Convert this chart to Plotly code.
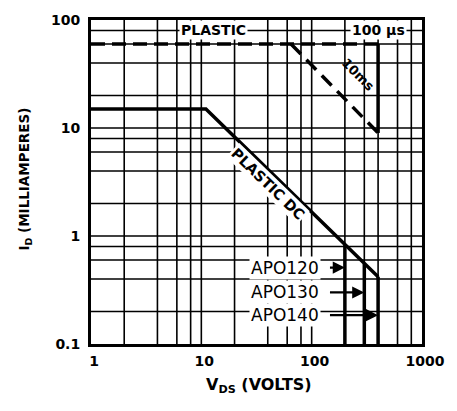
import numpy as np
import plotly.graph_objects as go

# ---- data ----
grid_v = [1, 2, 4, 6, 8, 10, 20, 40, 60, 80, 100, 200, 300, 400, 600, 800, 1000]
grid_i = [0.1, 0.2, 0.4, 0.6, 0.8, 1, 2, 4, 6, 8, 10, 20, 40, 60, 80, 100]
x_tick_vals = [1, 10, 100, 1000]
x_tick_text = ["1", "10", "100", "1000"]
y_tick_vals = [0.1, 1, 10, 100]
y_tick_text = ["0.1", "1", "10", "100"]

dc_v = [1, 11, 400]            # PLASTIC DC boundary
dc_i = [15, 15, 0.42]

pulse_v = [1, 400]             # PLASTIC 100 us limit
pulse_i = [60, 60]
pulse_edge_v = [400, 400]
pulse_edge_i = [60, 9]

ms10_v = [65, 400]             # 10 ms boundary
ms10_i = [60, 9]

apo_names = ["APO120", "APO130", "APO140"]
apo_v = [200, 300, 400]        # max VDS of each device
apo_top_i = [0.83, 0.55, 0.42] # where the vertical meets the DC line
apo_label_i = [0.51, 0.30, 0.185]
apo_label_v = 57
apo_arrow_tail_v = 142

fig = go.Figure()

# grid drawn as traces
for v in grid_v[1:-1]:
    fig.add_trace(go.Scatter(x=[v, v], y=[grid_i[0], grid_i[-1]], mode="lines",
                             line=dict(color="black", width=1.6), hoverinfo="skip"))
for i in grid_i[1:-1]:
    fig.add_trace(go.Scatter(x=[grid_v[0], grid_v[-1]], y=[i, i], mode="lines",
                             line=dict(color="black", width=1.6), hoverinfo="skip"))

# boundaries
fig.add_trace(go.Scatter(x=dc_v, y=dc_i, mode="lines", line=dict(color="black", width=3.5)))
fig.add_trace(go.Scatter(x=pulse_v, y=pulse_i, mode="lines",
                         line=dict(color="black", width=3.5, dash="14px,7px")))
fig.add_trace(go.Scatter(x=pulse_edge_v, y=pulse_edge_i, mode="lines",
                         line=dict(color="black", width=3.5)))
fig.add_trace(go.Scatter(x=ms10_v, y=ms10_i, mode="lines",
                         line=dict(color="black", width=3.5, dash="14px,8px")))
for v, top in zip(apo_v, apo_top_i):
    fig.add_trace(go.Scatter(x=[v, v], y=[grid_i[0], top], mode="lines",
                             line=dict(color="black", width=3.5)))

L = np.log10
FAM = "DejaVu Sans"

ann = []
ann.append(dict(x=L(13), y=L(80), text="<b>PLASTIC</b>", showarrow=False,
                font=dict(family=FAM, size=14, color="black"), bgcolor="white",
                xref="x", yref="y"))
ann.append(dict(x=L(400), y=L(80), text="<b>100 μs</b>", showarrow=False,
                font=dict(family=FAM, size=14, color="black"), bgcolor="white",
                xref="x", yref="y"))
ann.append(dict(x=L(262), y=L(31), text="<b>10ms</b>", showarrow=False, textangle=45,
                font=dict(family=FAM, size=13, color="black"), xref="x", yref="y"))
ann.append(dict(x=L(40), y=L(3.0), text="<b>PLASTIC DC</b>", showarrow=False, textangle=44,
                font=dict(family=FAM, size=14.5, color="black"), bgcolor="white",
                xref="x", yref="y"))
for name, v, yi in zip(apo_names, apo_v, apo_label_i):
    ann.append(dict(x=L(apo_label_v), y=L(yi), text=name, showarrow=False,
                    font=dict(family=FAM, size=17, color="black"),
                    bgcolor="white", xref="x", yref="y"))
    ann.append(dict(x=L(v), y=L(yi), ax=L(apo_arrow_tail_v), ay=L(yi),
                    axref="x", ayref="y", xref="x", yref="y", text="",
                    showarrow=True, arrowhead=2, arrowsize=1.1, arrowwidth=2.2,
                    arrowcolor="black"))

# axis titles
ann.append(dict(x=0.507, y=-0.127, xref="paper", yref="paper", yanchor="middle",
                text="<b>V<sub>DS</sub> (VOLTS)</b>", showarrow=False,
                font=dict(family=FAM, size=16, color="black")))
ann.append(dict(x=-0.2, y=0.51, xref="paper", yref="paper", textangle=-90,
                xanchor="center", yanchor="middle",
                text="<b>I<sub>D</sub> (MILLIAMPERES)</b>", showarrow=False,
                font=dict(family=FAM, size=13.5, color="black")))

fig.update_layout(
    width=457, height=411,
    margin=dict(l=91, r=26, t=13, b=67),
    paper_bgcolor="white", plot_bgcolor="white",
    showlegend=False,
    annotations=ann,
)
tickfont = dict(family=FAM, size=14, color="black", weight="bold")
fig.update_xaxes(type="log", range=[0, 3], tickvals=x_tick_vals, ticktext=x_tick_text,
                 showgrid=False, zeroline=False, showline=True, linecolor="black",
                 linewidth=3, mirror=True, ticks="", ticklabelshift=3,
                 ticklabeloverflow="allow", ticklabelstandoff=2, tickfont=tickfont)
fig.update_yaxes(type="log", range=[-1, 2], tickvals=y_tick_vals, ticktext=y_tick_text,
                 showgrid=False, zeroline=False, showline=True, linecolor="black",
                 linewidth=3, mirror=True, ticks="", ticklabelstandoff=5,
                 tickfont=tickfont)

fig.write_html("out.html", config={"displayModeBar": False},
               post_script="document.body.style.margin='0px';document.body.style.overflow='hidden';")
